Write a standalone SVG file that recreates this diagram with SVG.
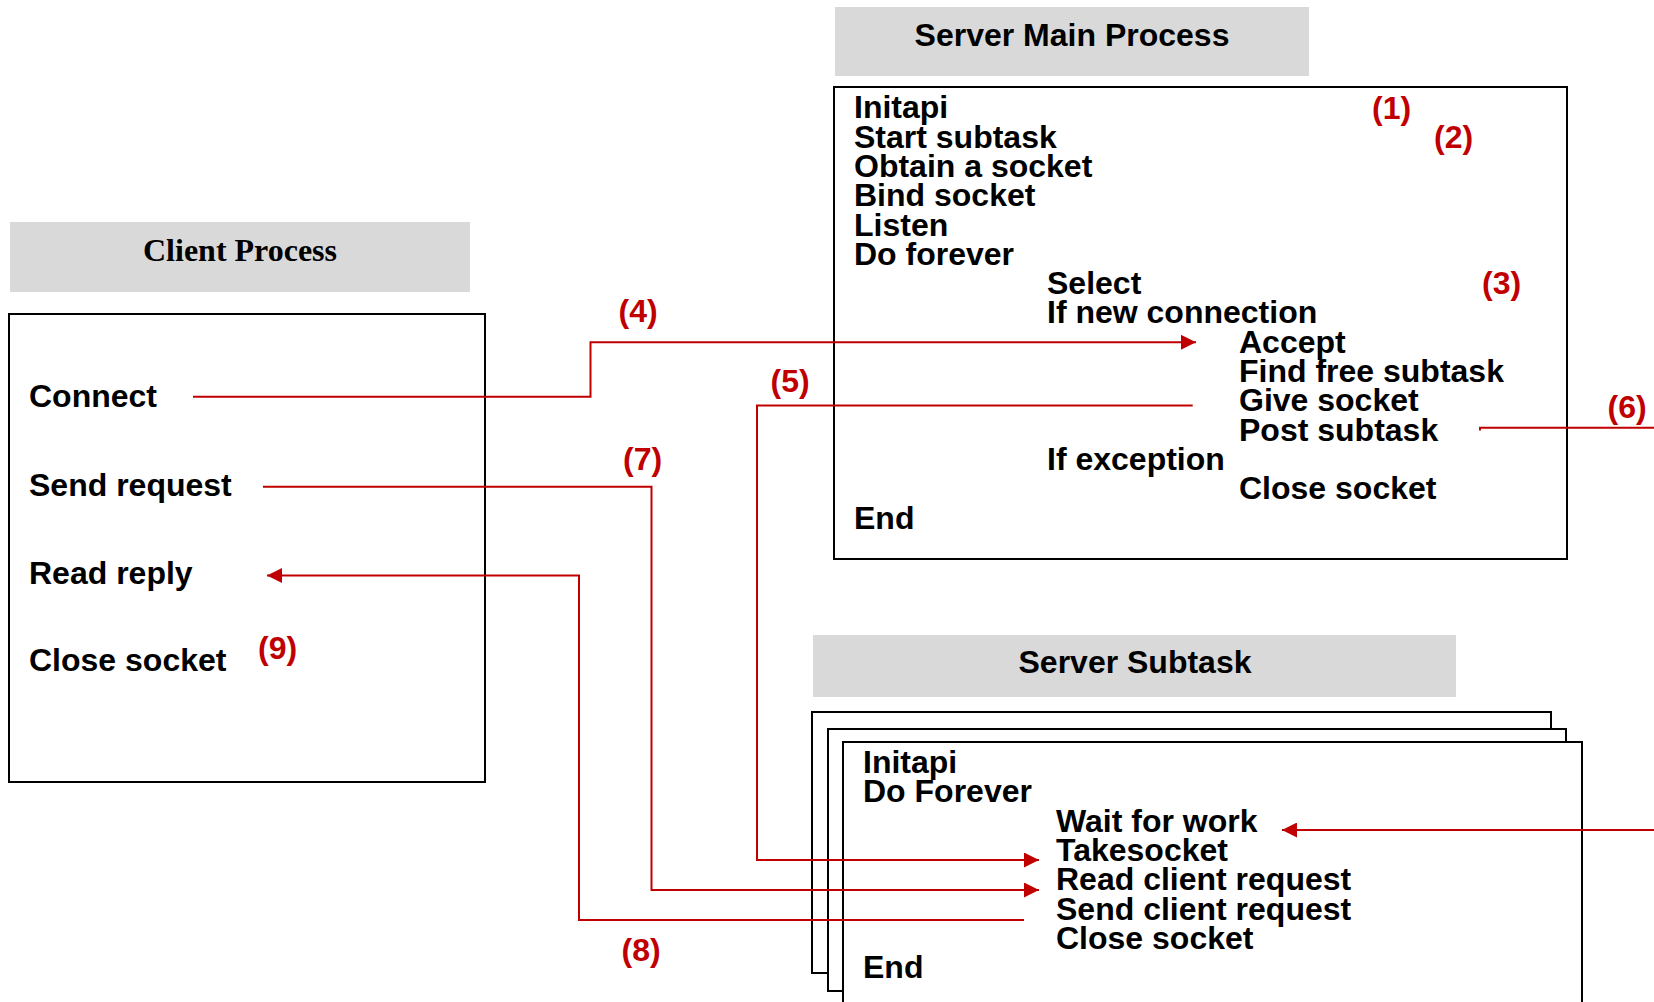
<svg xmlns="http://www.w3.org/2000/svg" width="1654" height="1002" viewBox="0 0 1654 1002">
  <defs>
    <style>
      .hdr { fill: #D9D9D9; }
      .box { fill: #FFFFFF; stroke: #000000; stroke-width: 2; }
      .t { font-family: "Liberation Sans", Arial, sans-serif; font-weight: bold; font-size: 32px; fill: #000000; }
      .ts { font-family: "Liberation Serif", "Times New Roman", serif; font-weight: bold; font-size: 32px; fill: #000000; }
      .n { font-family: "Liberation Sans", Arial, sans-serif; font-weight: bold; font-size: 32px; fill: #C00000; }
      .c { fill: none; stroke: #C00000; stroke-width: 2; }
    </style>
    <marker id="ah" markerUnits="userSpaceOnUse" markerWidth="16" markerHeight="15" refX="15" refY="7.5" orient="auto">
      <path d="M0,0 L15,7.5 L0,15 Z" fill="#C00000"/>
    </marker>
  </defs>

  <rect width="1654" height="1002" fill="#FFFFFF"/>

  <!-- Client side -->
  <g id="client-process">
    <rect class="hdr" x="10" y="222" width="460" height="70"/>
    <text class="ts" x="240" y="261" text-anchor="middle">Client Process</text>
    <rect class="box" x="9" y="314" width="476" height="468"/>
    <text class="t" x="29" y="407">Connect</text>
    <text class="t" x="29" y="496">Send request</text>
    <text class="t" x="29" y="584">Read reply</text>
    <text class="t" x="29" y="671">Close socket</text>
  </g>

  <!-- Server main loop -->
  <g id="server-main">
    <rect class="hdr" x="835" y="7" width="474" height="69"/>
    <text class="t" x="1072" y="46" text-anchor="middle">Server Main Process</text>
    <rect class="box" x="834" y="87" width="733" height="472"/>
    <text class="t">
      <tspan x="854" y="118.3">Initapi</tspan>
      <tspan x="854" y="147.6">Start subtask</tspan>
      <tspan x="854" y="176.9">Obtain a socket</tspan>
      <tspan x="854" y="206.2">Bind socket</tspan>
      <tspan x="854" y="235.5">Listen</tspan>
      <tspan x="854" y="264.8">Do forever</tspan>
      <tspan x="1047" y="294.1">Select</tspan>
      <tspan x="1047" y="323.4">If new connection</tspan>
      <tspan x="1239" y="352.7">Accept</tspan>
      <tspan x="1239" y="382">Find free subtask</tspan>
      <tspan x="1239" y="411.3">Give socket</tspan>
      <tspan x="1239" y="440.6">Post subtask</tspan>
      <tspan x="1047" y="469.9">If exception</tspan>
      <tspan x="1239" y="499.2">Close socket</tspan>
      <tspan x="854" y="528.5">End</tspan>
    </text>
  </g>

  <!-- Server subtask (stack of three instances) -->
  <g id="server-subtask">
    <rect class="hdr" x="813" y="635" width="643" height="62"/>
    <text class="t" x="1135" y="673" text-anchor="middle">Server Subtask</text>
    <rect class="box" x="812" y="712" width="739" height="261"/>
    <rect class="box" x="828" y="729" width="738" height="262"/>
    <rect class="box" x="843" y="742" width="739" height="280"/>
    <text class="t">
      <tspan x="863" y="773">Initapi</tspan>
      <tspan x="863" y="802.3">Do Forever</tspan>
      <tspan x="1056" y="831.6">Wait for work</tspan>
      <tspan x="1056" y="860.9">Takesocket</tspan>
      <tspan x="1056" y="890.2">Read client request</tspan>
      <tspan x="1056" y="919.5">Send client request</tspan>
      <tspan x="1056" y="948.8">Close socket</tspan>
      <tspan x="863" y="978.3">End</tspan>
    </text>
  </g>

  <!-- Message flow -->
  <g id="connectors">
    <path class="c" d="M193,396.7 H590.5 V342.3 H1196" marker-end="url(#ah)"/>
    <path class="c" d="M1192.7,405.5 H757 V860 H1039" marker-end="url(#ah)"/>
    <path class="c" d="M1480,430.5 V427.7 H1654"/>
    <path class="c" d="M263,486.7 H651.5 V890 H1039" marker-end="url(#ah)"/>
    <path class="c" d="M1024,920 H579 V575.5 H267" marker-end="url(#ah)"/>
    <path class="c" d="M1654,830 H1282" marker-end="url(#ah)"/>
  </g>

  <!-- Step numbers -->
  <g id="step-labels">
    <text class="n" x="1372" y="118.5">(1)</text>
    <text class="n" x="1434" y="147.5">(2)</text>
    <text class="n" x="1482" y="294">(3)</text>
    <text class="n" x="618.5" y="322">(4)</text>
    <text class="n" x="770.5" y="392">(5)</text>
    <text class="n" x="1607.5" y="418">(6)</text>
    <text class="n" x="623" y="470">(7)</text>
    <text class="n" x="621.5" y="961">(8)</text>
    <text class="n" x="258" y="659">(9)</text>
  </g>
</svg>
